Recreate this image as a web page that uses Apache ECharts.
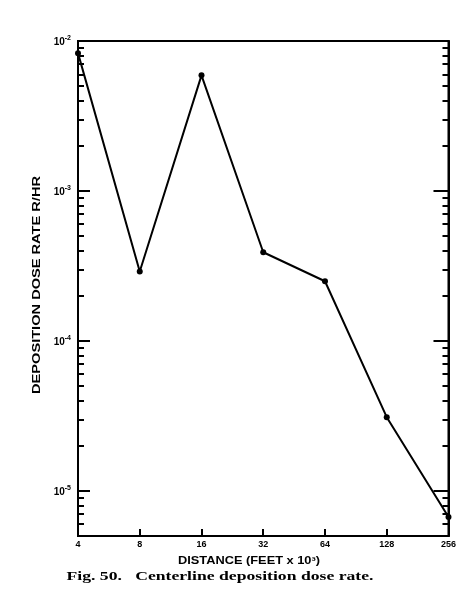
<!DOCTYPE html>
<html>
<head>
<meta charset="utf-8">
<script src="https://cdn.jsdelivr.net/npm/echarts@6/dist/echarts.min.js"></script>
<style>
html,body{margin:0;padding:0;background:#fff;}
#c{width:459px;height:600px;}
</style>
</head>
<body>
<div id="c"></div>
<script>
// ---- data ----
const distances = [4, 8, 16, 32, 64, 128, 256];            // thousand feet
const doseRates = [8.3e-3, 2.9e-4, 5.9e-3, 3.9e-4, 2.5e-4, 3.1e-5, 6.7e-6]; // R/HR
const yDecadeExponents = [-2, -3, -4, -5];
const yMin = 5e-6, yMax = 1e-2;
const xTickLabels = ['4', '8', '16', '32', '64', '128', '256'];
const yTitle = 'DEPOSITION DOSE RATE R/HR';
const xTitle = 'DISTANCE (FEET x 10³)';
const caption = 'Fig. 50.   Centerline deposition dose rate.';

// ---- helpers ----
const L = v => Math.log10(v);
const lmin = L(yMin), lmax = L(yMax);
const minorVals = [];
for (let e = -6; e <= -2; e++) {
  for (let k = 2; k <= 9; k++) {
    const lv = L(k * Math.pow(10, e));
    if (lv > lmin + 1e-9 && lv < lmax - 1e-9) minorVals.push(lv);
  }
}
const majorVals = yDecadeExponents.slice();
const seriesData = distances.map((d, i) => [Math.log2(d), L(doseRates[i])]);

const mc = document.createElement('canvas').getContext('2d');
function textW(t, font) { mc.font = font; return mc.measureText(t).width; }
function stretchedText(text, cx, cy, target, size, weight, family, rotate) {
  const w = textW(text, weight + ' ' + size + 'px ' + family);
  return {
    type: 'text', x: cx, y: cy, rotation: rotate ? Math.PI / 2 : 0,
    scaleX: target / w, scaleY: 1,
    style: {text: text, fontSize: size, fontWeight: weight, fontFamily: family, fill: '#000', align: 'center', verticalAlign: 'middle'}
  };
}

const chart = echarts.init(document.getElementById('c'), null, {renderer: 'canvas'});
const lineBlack = {color: '#000', width: 2};
function yAx(pos, ticks, len, showLine, showLabel) {
  return {
    type: 'value', position: pos, min: lmin, max: lmax,
    axisLine: {show: showLine, lineStyle: lineBlack},
    splitLine: {show: false},
    axisTick: {show: true, inside: true, length: len, customValues: ticks, lineStyle: {color: '#000', width: 2}},
    axisLabel: showLabel ? {
      show: true, customValues: majorVals, margin: 7,
      formatter: v => '{b|10}{s|' + Math.round(v) + '}',
      rich: {
        b: {fontSize: 10, fontWeight: 'bold', color: '#000', fontFamily: 'Liberation Sans', verticalAlign: 'bottom'},
        s: {fontSize: 7, fontWeight: 'bold', color: '#000', fontFamily: 'Liberation Sans', padding: [0, 0, 6, 0], verticalAlign: 'bottom'}
      }
    } : {show: false}
  };
}

chart.setOption({
  animation: false,
  backgroundColor: '#fff',
  grid: {left: 78, right: 8, top: 41, bottom: 64, show: true, borderColor: '#000', borderWidth: 2},
  xAxis: {
    type: 'value', min: 2, max: 8, interval: 1,
    axisLine: {lineStyle: lineBlack},
    splitLine: {show: false},
    axisTick: {inside: true, length: 7, lineStyle: {color: '#000', width: 2}},
    axisLabel: {
      margin: 4, fontSize: 9, fontWeight: 'bold', color: '#000', fontFamily: 'Liberation Sans',
      formatter: v => xTickLabels[Math.round(v) - 2] || ''
    }
  },
  yAxis: [
    yAx('left', majorVals, 12, true, true),
    yAx('left', minorVals, 6, false, false),
    yAx('right', majorVals, 15, true, false),
    yAx('right', minorVals, 6, false, false)
  ],
  series: [{
    type: 'line', data: seriesData, yAxisIndex: 0,
    symbol: 'circle', symbolSize: 6,
    itemStyle: {color: '#000'},
    lineStyle: {color: '#000', width: 2},
    clip: false
  }],
  graphic: [
    stretchedText(yTitle, 37, 285, 218, 11, 'bold', 'Liberation Sans', true),
    stretchedText(xTitle, 249, 561, 142, 10, 'bold', 'Liberation Sans', false),
    stretchedText(caption, 220, 577, 307, 13, 'bold', 'Liberation Serif', false)
  ]
});
</script>
</body>
</html>
